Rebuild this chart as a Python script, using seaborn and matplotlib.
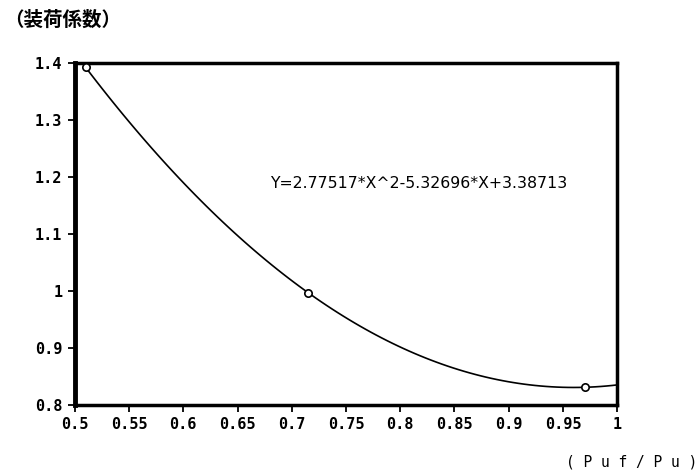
import numpy as np
import pandas as pd
import matplotlib
matplotlib.use("Agg")
import matplotlib.pyplot as plt
import seaborn as sns

# measured points (Puf/Pu, loading factor)
puf_ratio = [0.51, 0.715, 0.97]
load_factor = [1.392, 0.997, 0.831]
x_ticks = [0.5, 0.55, 0.6, 0.65, 0.7, 0.75, 0.8, 0.85, 0.9, 0.95, 1.0]
x_labels = ["0.5", "0.55", "0.6", "0.65", "0.7", "0.75", "0.8", "0.85", "0.9", "0.95", "1"]
y_ticks = [0.8, 0.9, 1.0, 1.1, 1.2, 1.3, 1.4]
y_labels = ["0.8", "0.9", "1", "1.1", "1.2", "1.3", "1.4"]
equation = "Y=2.77517*X^2-5.32696*X+3.38713"
title = "（装荷係数）"
x_title = "( P u f / P u )"

sns.set_style("ticks")
plt.rcParams['font.family'] = ['DejaVu Sans', 'Noto Sans CJK JP']
plt.rcParams['text.color'] = 'black'
plt.rcParams['xtick.color'] = 'black'
plt.rcParams['ytick.color'] = 'black'

df = pd.DataFrame({"x": puf_ratio, "y": load_factor})

fig = plt.figure(figsize=(6.99, 4.72), dpi=100)
ax = fig.add_axes([0.107, 0.142, 0.776, 0.725])
ax.set_xlim(0.5, 1.0)
ax.set_ylim(0.8, 1.4)

# quadratic fit through the points, stretched over the full x range
sns.regplot(data=df, x="x", y="y", ax=ax, order=2, ci=None, truncate=False,
            scatter_kws=dict(s=28, facecolor="white", edgecolor="black",
                             linewidths=1.2, alpha=1, zorder=3),
            line_kws=dict(color="black", lw=1.2))

ax.set_xlim(0.5, 1.0)
ax.set_ylim(0.8, 1.4)
ax.set_xlabel("")
ax.set_ylabel("")

ax.set_xticks(x_ticks)
ax.set_xticklabels(x_labels)
ax.set_yticks(y_ticks)
ax.set_yticklabels(y_labels)
ax.tick_params(direction="out", length=5, width=1.3, color="black",
               labelcolor="black", pad=4)
for lab in ax.get_xticklabels() + ax.get_yticklabels():
    lab.set_fontfamily("DejaVu Sans Mono")
    lab.set_fontweight("bold")
    lab.set_fontsize(11)

for side in ["left", "right", "top", "bottom"]:
    ax.spines[side].set_visible(True)
    ax.spines[side].set_color("black")
    ax.spines[side].set_linewidth(2.5)
ax.spines["left"].set_linewidth(3.5)

ax.text(0.68, 1.1886, equation, fontsize=11.3, va="center", ha="left",
        family="DejaVu Sans", color="black")

fig.text(0.006, 0.957, title, fontsize=14, fontweight="bold", color="black",
         family=["Noto Sans CJK JP", "DejaVu Sans"], va="center", ha="left")
fig.text(0.997, 0.022, x_title, fontsize=10.5, family="DejaVu Sans Mono",
         color="black", va="center", ha="right")

fig.savefig("out.png", dpi=100)
